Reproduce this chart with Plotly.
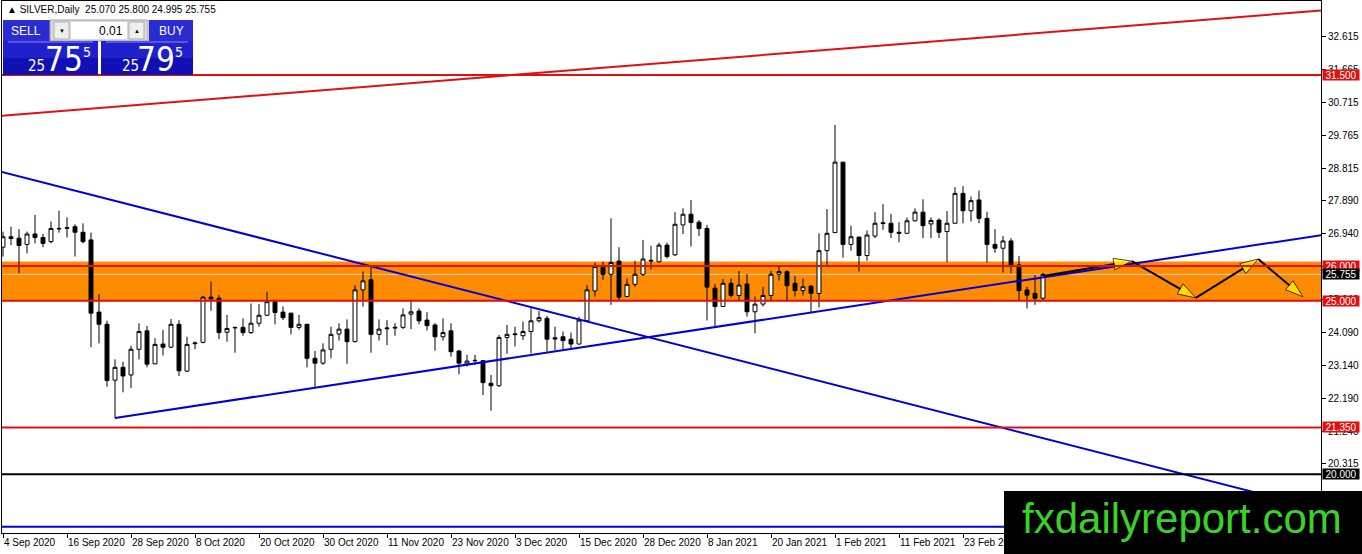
import plotly.graph_objects as go

# daily silver bars, 4 Sep 2020 .. 10 Mar 2021
opens = [26.54, 26.84, 26.80, 26.62, 26.92, 26.82, 26.70, 27.08, 27.10, 27.13,
         26.97, 26.75, 24.67, 24.32, 22.71, 23.08, 22.86, 23.60, 24.13, 23.18,
         23.75, 23.66, 24.32, 22.97, 23.76, 23.80, 25.10, 25.07, 24.09, 24.23,
         24.23, 24.08, 24.35, 24.58, 24.97, 24.67, 24.64, 24.23, 24.32, 23.34,
         23.20, 23.60, 24.04, 24.18, 23.82, 25.31, 25.60, 24.03, 24.19, 24.21,
         24.23, 24.61, 24.70, 24.44, 24.30, 23.96, 24.13, 23.55, 23.18, 23.27,
         23.27, 22.62, 22.55, 23.94, 24.02, 23.99, 24.11, 24.42, 24.49, 23.93,
         23.96, 23.89, 23.75, 24.42, 25.28, 25.96, 25.76, 26.14, 25.12, 25.47,
         25.76, 26.14, 26.12, 26.60, 26.32, 27.18, 27.49, 27.26, 27.08, 25.36,
         24.83, 25.50, 25.15, 25.48, 24.68, 24.90, 25.15, 25.76, 25.84, 25.50,
         25.29, 25.42, 25.21, 26.44, 26.96, 28.99, 26.62, 26.83, 26.30, 26.86,
         27.22, 27.23, 26.97, 26.94, 27.30, 27.55, 27.21, 27.32, 26.99, 27.23,
         28.09, 27.59, 27.90, 27.37, 26.62, 26.51, 26.72, 26.03, 25.31, 25.21,
         25.07]
highs = [26.99, 27.13, 27.06, 26.99, 27.47, 26.92, 27.28, 27.59, 27.40, 27.20,
         27.23, 26.96, 25.19, 24.42, 23.31, 23.24, 23.70, 24.35, 24.27, 23.92,
         24.16, 24.47, 24.44, 23.96, 23.82, 25.14, 25.55, 25.16, 24.59, 24.25,
         24.49, 24.92, 24.90, 25.26, 24.99, 24.83, 24.65, 24.59, 24.33, 23.55,
         23.77, 24.25, 24.35, 24.46, 25.45, 25.84, 26.00, 24.46, 24.44, 24.35,
         24.78, 24.99, 24.78, 24.67, 24.35, 24.49, 24.35, 23.58, 23.44, 23.44,
         23.29, 22.86, 24.01, 24.30, 24.25, 24.40, 24.78, 24.70, 24.56, 24.25,
         24.11, 24.08, 24.54, 25.45, 26.10, 26.12, 27.37, 26.54, 25.64, 26.15,
         26.75, 26.58, 26.67, 26.67, 27.55, 27.66, 27.90, 27.32, 27.18, 25.48,
         25.62, 25.64, 25.86, 25.77, 25.12, 25.40, 25.86, 25.98, 25.88, 25.71,
         25.64, 25.45, 26.94, 27.64, 30.06, 28.99, 27.16, 26.84, 27.02, 27.55,
         27.78, 27.50, 27.26, 27.39, 27.66, 27.92, 27.40, 27.37, 27.58, 28.27,
         28.30, 28.00, 28.17, 27.56, 27.06, 26.86, 26.80, 26.29, 25.40, 25.74,
         25.80]
lows = [26.27, 26.60, 25.79, 26.36, 26.65, 26.54, 26.65, 26.96, 26.82, 26.27,
        26.65, 23.66, 23.77, 22.52, 21.62, 22.36, 22.48, 23.31, 23.08, 23.17,
        23.42, 23.63, 22.83, 22.94, 23.60, 23.77, 24.71, 23.89, 23.82, 23.50,
        23.99, 24.04, 24.25, 24.56, 24.32, 24.44, 24.03, 24.16, 23.08, 22.52,
        23.15, 23.34, 23.85, 23.18, 23.80, 24.83, 23.50, 23.85, 23.72, 23.99,
        24.18, 24.18, 24.32, 24.14, 23.56, 23.85, 23.39, 22.88, 23.10, 23.15,
        22.28, 21.83, 22.52, 23.47, 23.68, 23.87, 23.48, 24.37, 23.53, 23.58,
        23.60, 23.63, 23.74, 24.40, 25.12, 25.60, 24.88, 25.02, 25.10, 25.40,
        25.71, 25.90, 26.10, 26.22, 26.29, 26.92, 26.56, 26.86, 24.43, 24.25,
        24.82, 25.09, 25.02, 24.54, 24.06, 24.83, 24.97, 25.58, 24.97, 25.12,
        25.15, 24.67, 24.80, 26.03, 26.95, 26.24, 26.44, 25.84, 26.15, 26.80,
        27.04, 26.80, 26.68, 26.92, 27.28, 26.80, 26.80, 26.80, 26.11, 27.21,
        27.23, 27.28, 27.23, 26.10, 26.38, 25.81, 25.79, 25.02, 24.78, 24.88,
        24.995]
closes = [26.84, 26.79, 26.59, 26.92, 26.82, 26.65, 27.08, 27.07, 27.09, 26.97,
          26.70, 24.64, 24.32, 22.70, 23.08, 22.83, 23.60, 24.11, 23.17, 23.74,
          23.66, 24.32, 22.98, 23.74, 23.78, 25.10, 25.05, 24.08, 24.20, 24.22,
          24.08, 24.35, 24.58, 24.97, 24.66, 24.51, 24.23, 24.32, 23.34, 23.20,
          23.58, 24.03, 24.18, 23.82, 25.31, 25.57, 24.03, 24.18, 24.21, 24.23,
          24.59, 24.68, 24.42, 24.28, 23.96, 24.08, 23.53, 23.20, 23.26, 23.28,
          22.64, 22.55, 23.94, 24.03, 24.04, 24.11, 24.42, 24.51, 23.89, 23.90,
          23.85, 23.75, 24.44, 25.31, 25.98, 25.76, 26.10, 25.10, 25.47, 25.76,
          26.20, 26.16, 26.60, 26.27, 27.20, 27.49, 27.25, 27.08, 25.39, 24.83,
          25.50, 25.15, 25.45, 24.68, 24.90, 25.15, 25.76, 25.84, 25.43, 25.29,
          25.40, 25.21, 26.44, 26.94, 28.99, 26.62, 26.84, 26.30, 26.89, 27.23,
          27.24, 26.97, 26.94, 27.30, 27.55, 27.16, 27.31, 26.97, 27.23, 28.09,
          27.59, 27.88, 27.37, 26.62, 26.51, 26.72, 26.03, 25.29, 25.16, 25.07,
          25.755]

date_labels = ["4 Sep 2020", "16 Sep 2020", "28 Sep 2020", "8 Oct 2020", "20 Oct 2020",
               "30 Oct 2020", "11 Nov 2020", "23 Nov 2020", "3 Dec 2020", "15 Dec 2020",
               "28 Dec 2020", "8 Jan 2021", "20 Jan 2021", "1 Feb 2021", "11 Feb 2021",
               "23 Feb 2021"]
label_step = 8  # one time label every 8 bars

price_ticks = [32.615, 31.665, 30.715, 29.765, 28.815, 27.890, 26.940, 25.990,
               25.040, 24.090, 23.140, 22.190, 21.240, 20.315]

# drawn objects: (bar index, price)
red_trend_x = [-1, 166]
red_trend_y = [30.31, 33.38]
blue_down_x = [-1, 166]
blue_down_y = [28.76, 18.92]
blue_up_x = [14, 166]
blue_up_y = [21.62, 26.93]
path_x = [130, 141.1, 149.1, 156.9, 162.5]
path_y = [25.71, 26.14, 25.08, 26.20, 25.11]

red_levels = [31.5, 26.0, 25.0, 21.35]
black_level = 20.0
blue_level = 18.49
zone = [24.98, 26.13]
bid = 25.755

RED = "#e01010"
BLUE = "#0000d8"

fig = go.Figure()
fig.add_trace(go.Candlestick(
    x=list(range(len(opens))), open=opens, high=highs, low=lows, close=closes,
    increasing=dict(line=dict(color="black", width=1), fillcolor="white"),
    decreasing=dict(line=dict(color="black", width=1), fillcolor="black"),
    whiskerwidth=0, showlegend=False))

for xs, ys, col in [(red_trend_x, red_trend_y, RED), (blue_down_x, blue_down_y, BLUE),
                    (blue_up_x, blue_up_y, BLUE)]:
    fig.add_trace(go.Scatter(x=xs, y=ys, mode="lines", line=dict(color=col, width=2),
                             showlegend=False, hoverinfo="skip"))

fig.add_trace(go.Scatter(
    x=path_x, y=path_y, mode="lines+markers", line=dict(color="black", width=2),
    marker=dict(symbol="arrow", angleref="previous", size=[0, 19, 19, 19, 19],
                color="#ffff00", line=dict(color="black", width=1)),
    showlegend=False, hoverinfo="skip"))

shapes = [dict(type="rect", xref="paper", x0=0, x1=1, yref="y", y0=zone[0], y1=zone[1],
               fillcolor="#ff8c00", line=dict(width=0), layer="below"),
          dict(type="line", xref="paper", x0=0, x1=1, yref="y", y0=bid, y1=bid,
               line=dict(color="#d8d0c8", width=1), layer="below")]
for lv in red_levels:
    shapes.append(dict(type="line", xref="paper", x0=0, x1=1, yref="y", y0=lv, y1=lv,
                       line=dict(color=RED, width=2)))
shapes.append(dict(type="line", xref="paper", x0=0, x1=1, yref="y", y0=black_level,
                   y1=black_level, line=dict(color="black", width=2)))
shapes.append(dict(type="line", xref="paper", x0=0, x1=1, yref="y", y0=blue_level,
                   y1=blue_level, line=dict(color=BLUE, width=2)))

# screen pixel -> paper helpers for the overlay widgets
L, T, W, H = 2, 1, 1319, 532


def px(x):
    return (x - L) / W


def py(y):
    return 1 - (y - T) / H


def box(x0, y0, x1, y1, fill, line=None):
    shapes.append(dict(type="rect", xref="paper", yref="paper", x0=px(x0), x1=px(x1),
                       y0=py(y1), y1=py(y0), fillcolor=fill,
                       line=dict(width=1 if line else 0, color=line or fill)))


# trade panel
box(3, 20, 50, 41, "#2b2bd3")
box(50, 20, 148, 41, "#d8d8d8", "#a0a0a0")
box(54, 22, 69, 39, "#eeeeee", "#b0b0b0")
box(71, 22, 127, 39, "white")
box(129, 22, 144, 39, "#eeeeee", "#b0b0b0")
box(149, 20, 193, 41, "#2b2bd3")
for a, b in [(3, 98), (101, 193)]:
    box(a, 41, b, 58, "#2020cc")
    box(a, 58, b, 75, "#1010b4")
    shapes.append(dict(type="line", xref="paper", yref="paper", x0=px(a + 5), x1=px(b - 5),
                       y0=py(42), y1=py(42), line=dict(color="#8c8cf0", width=1)))
# watermark
box(1004, 491, 1362, 554, "black")

annotations = []


def text(x, y, s, size, color="white", anchor="center", family="Liberation Sans"):
    annotations.append(dict(xref="paper", yref="paper", x=px(x), y=py(y), text=s,
                            showarrow=False, xanchor=anchor, yanchor="middle",
                            font=dict(size=size, color=color, family=family)))


text(5, 10, "▲ SILVER,Daily  25.070 25.800 24.995 25.755", 10, "black", "left")
text(26, 31, "SELL", 12)
text(171, 31, "BUY", 12)
text(125, 31, "0.01", 12, "black", "right")
text(61.5, 31, "▼", 6, "black")
text(136.5, 31, "▲", 6, "black")
narrow = "Liberation Sans Narrow, DejaVu Sans Condensed"
for sx, bx, ex, big in [(36, 64, 87, "75"), (130, 156, 179, "79")]:
    text(sx, 66, "25", 15, family=narrow)
    text(bx, 59, big, 33, family=narrow)
    text(ex, 52, "5", 14, family=narrow)
text(1182, 518, "fxdailyreport.com", 42, "#3ad22a")

# price labels on the right scale
for lv, bg in [(31.5, RED), (26.0, RED), (bid, "black"), (25.0, RED), (21.35, RED),
               (black_level, "black")]:
    annotations.append(dict(xref="paper", x=1, xanchor="left", xshift=1, yref="y", y=lv,
                            yanchor="middle", text=f"{lv:.3f}", showarrow=False,
                            bgcolor=bg, width=36, height=10, borderpad=0,
                            font=dict(size=10, color="white", family="Liberation Sans")))

fig.update_layout(
    width=1362, height=554, margin=dict(l=L, r=1362 - L - W, t=T, b=554 - T - H),
    paper_bgcolor="white", plot_bgcolor="white", showlegend=False,
    shapes=shapes, annotations=annotations,
    font=dict(family="Liberation Sans", size=10, color="black"),
    xaxis=dict(range=[-0.125, 164.75], rangeslider=dict(visible=False), showgrid=False,
               zeroline=False, showline=True, mirror=True, linecolor="black", linewidth=1,
               ticks="outside", ticklen=4, tickcolor="black", tickangle=0, automargin=False,
               tickvals=[i * label_step for i in range(len(date_labels))],
               ticktext=date_labels, ticklabelposition="outside right"),
    yaxis=dict(range=[18.308, 33.631], side="right", showgrid=False, zeroline=False,
               showline=True, mirror=True, linecolor="black", linewidth=1,
               ticks="outside", ticklen=4, tickcolor="black", automargin=False,
               tickvals=price_ticks, ticktext=[f"{v:.3f}" for v in price_ticks]),
)

# the page's default body margin would shift the chart by 8px
fig.write_html("out.html", config={"displayModeBar": False},
               post_script="document.body.style.margin='0';")
